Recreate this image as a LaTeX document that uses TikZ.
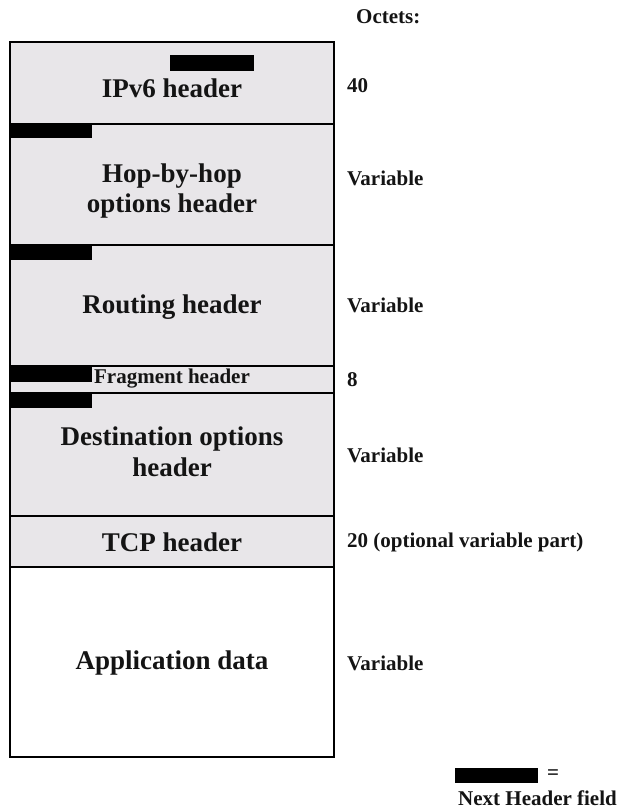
\documentclass[tikz,border=0pt]{standalone}
\usepackage{fontspec}
\setmainfont{Liberation Serif}
\definecolor{hdrgray}{RGB}{232,230,233}
\definecolor{inkc}{RGB}{20,20,20}
\begin{document}
\begin{tikzpicture}[x=1pt,y=-1pt,
  box/.style={draw=black,line width=1.8pt,fill=hdrgray,inner sep=0,outer sep=0,anchor=north west,minimum width=324pt},
  bar/.style={fill=black,draw=none},
  biglbl/.style={font=\fontsize{27}{30}\selectfont\bfseries,text=inkc,align=center,inner sep=0},
  sidelbl/.style={font=\fontsize{21}{24}\selectfont\bfseries,text=inkc,anchor=west,inner sep=0}]
\useasboundingbox (0,0) rectangle (619,812);
% stacked boxes
\node[box,minimum height=82pt] (ipv6) at (10,42) {};
\node[box,minimum height=121pt] (hop) at (10,124) {};
\node[box,minimum height=121pt] (rout) at (10,245) {};
\node[box,minimum height=27pt] (frag) at (10,366) {};
\node[box,minimum height=123pt] (dest) at (10,393) {};
\node[box,minimum height=51pt] (tcp) at (10,516) {};
\node[box,fill=white,minimum height=190pt] (app) at (10,567) {};
% Next Header fields
\fill[bar] (170,55) rectangle (254,71);
\fill[bar] (10,124) rectangle (92,138);
\fill[bar] (10,245) rectangle (92,260);
\fill[bar] (10,367) rectangle (92,382);
\fill[bar] (10,393) rectangle (92,408);
% outer frame
\draw[line width=2.8pt] (ipv6.north west) rectangle (app.south east);
% labels in boxes
\node[biglbl] (ipv6l) at (172,88) {IPv6 header};
\node[biglbl] (hopl) at (172,191) {Hop-by-hop\\options header};
\node[biglbl] (routl) at (172,307) {Routing header};
\node[biglbl,font=\fontsize{21}{24}\selectfont\bfseries] (fragl) at (172,379) {Fragment header};
\node[biglbl,font=\fontsize{27}{31}\selectfont\bfseries] (destl) at (172,452) {Destination options\\header};
\node[biglbl] (tcpl) at (172,542) {TCP header};
\node[biglbl] (appl) at (172,663) {Application data};
% octets column
\node[sidelbl] (oct) at (356,17) {Octets:};
\node[sidelbl] (o1) at (347,86) {40};
\node[sidelbl] (o2) at (347,178) {Variable};
\node[sidelbl] (o3) at (347,305) {Variable};
\node[sidelbl] (o4) at (347,380) {8};
\node[sidelbl] (o5) at (347,455) {Variable};
\node[sidelbl] (o6) at (347,542) {20 (optional variable part)};
\node[sidelbl] (o7) at (347,663) {Variable};
% legend
\fill[bar] (455,768) rectangle (538,783);
\node[sidelbl] (eq) at (547,775) {=};
\node[sidelbl] (leg) at (458,798) {Next Header field};
\end{tikzpicture}
\end{document}
